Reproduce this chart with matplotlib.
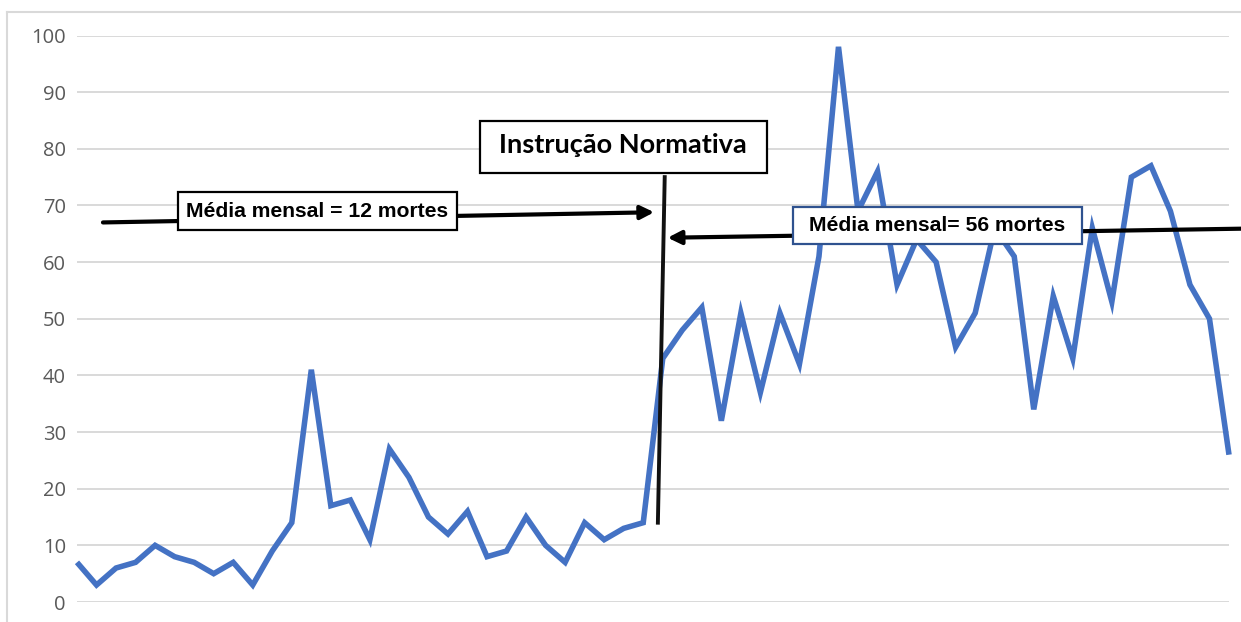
import matplotlib

matplotlib.use("Agg")
import matplotlib.pyplot as plt
from matplotlib.lines import Line2D
from matplotlib.patches import Rectangle

# monthly deaths, 60 months; the normative instruction lands between month 30 and 31
deaths = [7, 3, 6, 7, 10, 8, 7, 5, 7, 3,
          9, 14, 41, 17, 18, 11, 27, 22, 15, 12,
          16, 8, 9, 15, 10, 7, 14, 11, 13, 14,
          43, 48, 52, 32, 51, 37, 51, 42, 61, 98,
          69, 76, 56, 64, 60, 45, 51, 66, 61, 34,
          54, 43, 66, 53, 75, 77, 69, 56, 50, 26]
months = list(range(len(deaths)))
y_ticks = list(range(0, 101, 10))

label_before = "Média mensal = 12 mortes"
label_after = "Média mensal= 56 mortes"
label_event = "Instrução Normativa"

W, H = 1241, 622
fig = plt.figure(figsize=(W / 100, H / 100), dpi=100)
ax = fig.add_axes([77 / W, 20 / H, (1229 - 77) / W, (602 - 35.5) / H])

ax.plot(months, deaths, color="#4472C4", lw=4.0, solid_joinstyle="miter",
        solid_capstyle="butt", zorder=3, clip_on=False)

ax.set_xlim(0, len(deaths) - 1)
ax.set_ylim(0, 100)
ax.set_yticks(y_ticks)
ax.set_xticks([])
ax.yaxis.grid(True, color="#D9D9D9", lw=1.4)
ax.set_axisbelow(True)
for s in ax.spines.values():
    s.set_visible(False)
ax.tick_params(axis="y", length=0, pad=8, labelsize=14.5, labelcolor="#595959")
for t in ax.get_yticklabels():
    t.set_family("Open Sans")

# chart frame (only top/left edges are inside the crop)
fig.add_artist(Line2D([7 / W, 7 / W], [0, 1 - 12 / H], color="#D9D9D9", lw=1.5))
fig.add_artist(Line2D([7 / W, 1], [1 - 12 / H, 1 - 12 / H], color="#D9D9D9", lw=1.5))

# px -> data helpers for the annotation layer
dx = (len(deaths) - 1) / (1229 - 77)
dy = 100 / (602 - 35.5)


def box(cx, cy, wpx, hpx, edge, lw):
    ax.add_patch(Rectangle((cx - wpx * dx / 2, cy - hpx * dy / 2), wpx * dx, hpx * dy,
                           facecolor="white", edgecolor=edge, lw=lw, zorder=6,
                           clip_on=False))


# vertical marker for the normative instruction
ax.plot([30.1, 29.75], [75, 14], color="#111111", lw=2.8, zorder=5, clip_on=False)

arrow = dict(arrowstyle="-|>", color="black", lw=3, mutation_scale=20,
             shrinkA=0, shrinkB=0)
ax.annotate("", xy=(29.56, 68.8), xytext=(1.33, 67.0), arrowprops=arrow,
            zorder=5, annotation_clip=False)
ax.annotate("", xy=(30.25, 64.3), xytext=(59.65, 65.9), arrowprops=arrow,
            zorder=5, annotation_clip=False)

box(12.31, 68.96, 279, 38, "black", 1.6)
ax.text(12.31, 68.96, label_before, ha="center", va="center", fontsize=15.2,
        fontweight="bold", family="Liberation Sans", zorder=7)

box(44.06, 66.5, 289, 37, "#2F528F", 1.6)
ax.text(44.06, 66.5, label_after, ha="center", va="center", fontsize=15.2,
        fontweight="bold", family="Liberation Sans", zorder=7)

box(27.98, 80.3, 287, 52, "black", 1.6)
ax.text(27.98, 80.6, label_event, ha="center", va="center", fontsize=19.5,
        fontweight="bold", family="Lato", zorder=7)

fig.savefig("out.png", dpi=100)
